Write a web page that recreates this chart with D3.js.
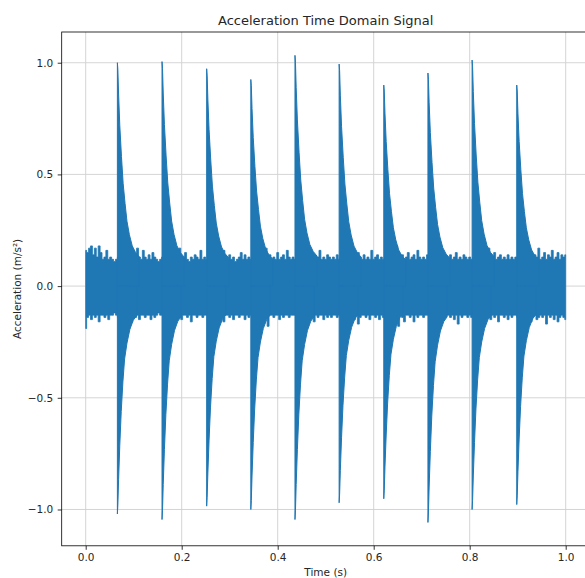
<!DOCTYPE html>
<html>
<head>
<meta charset="utf-8">
<script src="https://cdn.jsdelivr.net/npm/d3@7"></script>
<style>
  body { margin: 0; background: #fff; }
  text { font-family: "DejaVu Sans", sans-serif; fill: #262626; }
</style>
</head>
<body>
<svg id="chart" width="585" height="578"></svg>
<script>
// background noise band, sampled every noiseStep seconds (values in hundredths of m/s²)
var noiseStep = 0.004;
var noiseTop = [
  16,15,17,18,14,17,13,18,15,12, 13,16,12,13,12,11,12,13,14,12,
  13,12,14,12,13,15,12,17,13,12, 16,13,12,14,12,15,13,12,11,12,
  13,12,14,13,12,16,13,15,12,17, 12,13,15,12,11,13,12,14,13,12,
  16,12,13,12,14,12,13,15,12,13, 17,12,16,13,12,14,12,13,11,12,
  13,15,12,14,12,13,12,13,14,12, 13,12,16,13,17,12,14,12,13,12,
  15,12,13,14,12,16,13,12,13,12, 13,14,12,13,15,12,17,13,12,14,
  12,13,16,12,13,12,14,13,12,13, 12,14,12,13,12,13,15,12,14,17,
  13,12,15,13,12,14,12,13,12,16, 12,13,14,12,13,12,13,14,12,13,
  15,12,18,13,12,14,12,13,15,12, 13,14,12,16,13,12,13,12,14,13,
  12,13,14,12,15,13,16,12,13,12, 14,12,13,15,12,13,12,14,13,12,
  13,12,13,12,14,12,13,16,12,14, 17,13,12,15,12,13,14,12,13,12,
  14,12,13,12,13,12,13,14,12,15, 12,16,13,12,14,13,17,12,13,15,
  12,14,13,16,12,13,15,12,14,13, 14
];
var noiseBottom = [
  19,14,13,15,13,14,13,16,13,13, 14,13,15,13,13,12,13,14,13,13,
  15,13,17,14,16,13,14,13,15,13, 13,14,13,13,15,13,14,13,12,13,
  13,14,13,16,14,13,17,13,14,13, 15,13,13,14,13,16,13,13,14,13,
  13,14,13,13,13,14,15,13,17,13, 14,13,16,13,13,14,13,15,13,13,
  14,13,13,15,13,14,13,13,14,13, 16,13,15,13,14,18,13,13,14,13,
  13,15,13,14,13,13,14,13,13,13, 14,13,15,13,17,14,13,14,13,16,
  13,14,13,13,15,13,14,13,14,13, 13,14,13,13,13,15,13,16,14,13,
  15,13,17,14,13,13,14,13,15,13, 13,14,13,15,13,14,13,13,13,14,
  13,15,14,18,13,14,16,13,13,14, 13,16,13,14,13,13,14,13,13,13,
  15,14,13,16,13,15,13,14,13,13, 14,13,15,13,17,13,14,13,13,14,
  13,14,13,13,13,15,14,13,16,14, 13,15,13,14,13,16,13,13,14,13,
  15,13,14,13,13,14,13,13,13,15, 13,14,16,13,13,15,14,13,14,13,
  17,13,14,13,15,13,16,14,13,14, 15
];

// impacts: time (s), positive peak and negative peak (m/s²)
var impulseTimes   = [0.066, 0.159, 0.252, 0.344, 0.436, 0.528, 0.621, 0.713, 0.805, 0.898];
var impulsePeaks   = [1.000, 1.005, 0.973, 0.925, 1.033, 0.994, 0.900, 0.954, 1.012, 0.900];
var impulseTroughs = [-1.020, -1.045, -0.985, -1.000, -1.045, -0.970, -0.952, -1.058, -1.000, -0.978];

// envelope of the ring-down after an impact: [seconds after impact, fraction of peak]
var decayUp = [[0, 1], [0.001, 0.97], [0.0025, 0.86], [0.005, 0.72], [0.0085, 0.58], [0.012, 0.46],
  [0.016, 0.37], [0.020, 0.29], [0.025, 0.23], [0.031, 0.18], [0.038, 0.15], [0.046, 0.13]];
var decayDown = [[0, 1], [0.001, 0.96], [0.0025, 0.85], [0.005, 0.70], [0.008, 0.55], [0.0115, 0.42],
  [0.015, 0.32], [0.020, 0.25], [0.026, 0.19], [0.033, 0.15], [0.040, 0.13]];

var xTicks = [0.0, 0.2, 0.4, 0.6, 0.8, 1.0];
var yTicks = [-1.0, -0.5, 0.0, 0.5, 1.0];

(function () {
  var blue = "#1f77b4";
  var plotLeft = 61.7, plotRight = 589.7, plotTop = 32, plotBottom = 545.8;

  var svg = d3.select("#chart");

  // matplotlib style 5% margins round the data
  var tMin = 0, tMax = (noiseTop.length - 1) * noiseStep;
  var vMax = d3.max(impulsePeaks), vMin = d3.min(impulseTroughs);
  var tPad = (tMax - tMin) * 0.05, vPad = (vMax - vMin) * 0.05;

  var x = d3.scaleLinear().domain([tMin - tPad, tMax + tPad]).range([plotLeft, plotRight]);
  var y = d3.scaleLinear().domain([vMin - vPad, vMax + vPad]).range([plotBottom, plotTop]);

  var fmt = d3.format(".1f");

  // grid
  var grid = svg.append("g").attr("stroke", "#d0d0d0").attr("stroke-width", 0.9);
  grid.selectAll(".gx").data(xTicks).enter().append("line")
    .attr("x1", d => x(d)).attr("x2", d => x(d)).attr("y1", plotTop).attr("y2", plotBottom);
  grid.selectAll(".gy").data(yTicks).enter().append("line")
    .attr("x1", plotLeft).attr("x2", plotRight).attr("y1", d => y(d)).attr("y2", d => y(d));

  // signal
  var plot = svg.append("g");

  var noise = noiseTop.map(function (v, i) {
    return { t: i * noiseStep, hi: v / 100, lo: -noiseBottom[i] / 100 };
  });
  plot.append("path")
    .datum(noise)
    .attr("d", d3.area().x(d => x(d.t)).y0(d => y(d.lo)).y1(d => y(d.hi)).curve(d3.curveStep))
    .attr("fill", blue).attr("stroke", blue).attr("stroke-width", 0.8);

  var spikeArea = d3.area().x(d => x(d.t)).y0(y(0)).y1(d => y(d.v));
  impulseTimes.forEach(function (t0, k) {
    var up = decayUp.map(p => ({ t: t0 + p[0], v: impulsePeaks[k] * p[1] }));
    var down = decayDown.map(p => ({ t: t0 + p[0], v: impulseTroughs[k] * p[1] }));
    [up, down].forEach(function (pts) {
      plot.append("path").datum(pts).attr("d", spikeArea)
        .attr("fill", blue).attr("stroke", blue).attr("stroke-width", 1.0)
        .attr("stroke-linejoin", "round");
    });
  });

  // spines
  svg.append("rect").attr("x", plotLeft).attr("y", plotTop)
    .attr("width", plotRight - plotLeft).attr("height", plotBottom - plotTop)
    .attr("fill", "none").attr("stroke", "#000").attr("stroke-width", 0.8);

  // axes
  var xAxis = svg.append("g").attr("transform", "translate(0," + plotBottom + ")")
    .call(d3.axisBottom(x).tickValues(xTicks).tickFormat(fmt).tickSize(4).tickPadding(4));
  var yAxis = svg.append("g").attr("transform", "translate(" + plotLeft + ",0)")
    .call(d3.axisLeft(y).tickValues(yTicks).tickFormat(fmt).tickSize(4).tickPadding(4.5));
  [xAxis, yAxis].forEach(function (a) {
    a.select(".domain").remove();
    a.selectAll(".tick line").attr("stroke", "#000").attr("stroke-width", 0.8);
    a.selectAll(".tick text").attr("font-size", 10.5).attr("font-family", "DejaVu Sans").attr("fill", "#262626");
  });

  // labels
  svg.append("text").attr("x", (plotLeft + plotRight) / 2).attr("y", 25)
    .attr("text-anchor", "middle").attr("font-size", 13).text("Acceleration Time Domain Signal");
  svg.append("text").attr("x", (plotLeft + plotRight) / 2).attr("y", 576)
    .attr("text-anchor", "middle").attr("font-size", 10.5).text("Time (s)");
  svg.append("text").attr("transform", "translate(21," + (plotTop + plotBottom) / 2 + ") rotate(-90)")
    .attr("text-anchor", "middle").attr("font-size", 10.5).text("Acceleration (m/s²)");
})();
</script>
</body>
</html>
